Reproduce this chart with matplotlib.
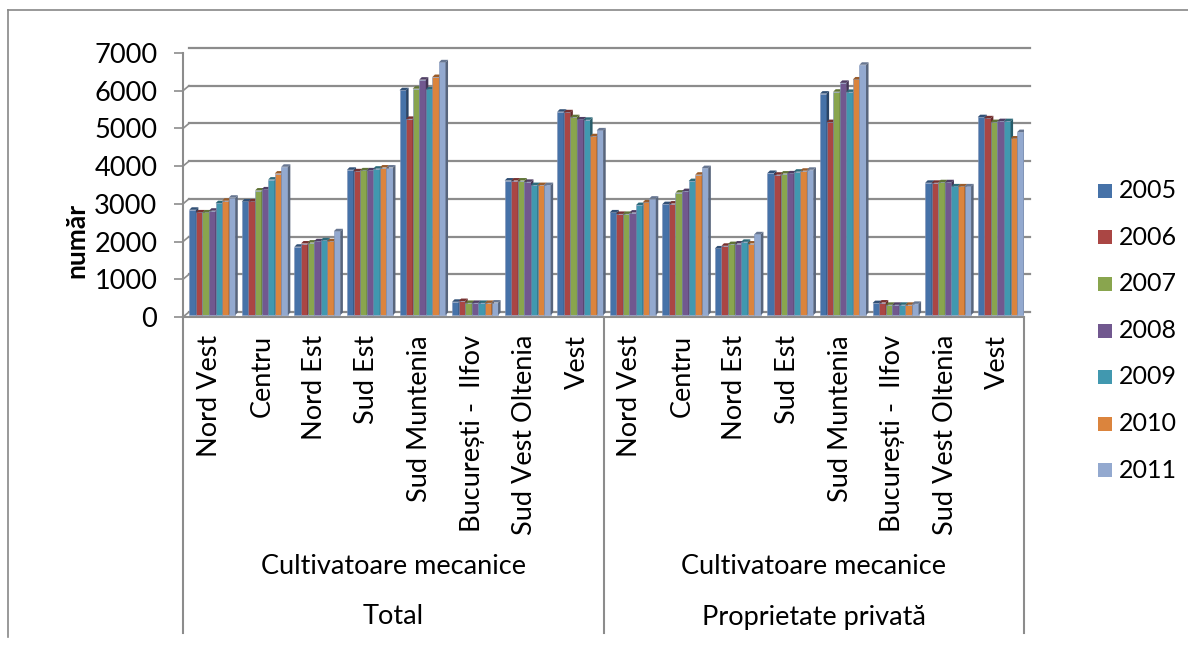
import matplotlib
matplotlib.use('Agg')
import matplotlib.pyplot as plt
import matplotlib.patches as patches
import matplotlib.transforms as mtransforms
from matplotlib.lines import Line2D
import numpy as np

plt.rcParams['font.family'] = ['Lato', 'DejaVu Sans']
plt.rcParams['font.size'] = 19.5

years = ['2005', '2006', '2007', '2008', '2009', '2010', '2011']
regions = ['Nord Vest', 'Centru', 'Nord Est', 'Sud Est', 'Sud Muntenia',
           'București -  Ilfov', 'Sud Vest Oltenia', 'Vest']
groups = ['Total', 'Proprietate privată']
indicator = 'Cultivatoare mecanice'
colors = ['#4672a8', '#aa4644', '#89a54e', '#71588f', '#4198af', '#db843d', '#93a9cf']

# one row per year, one value per region
total_vals = [
    [2790, 3010, 1810, 3850, 5960, 350, 3565, 5390],
    [2720, 3010, 1895, 3810, 5200, 370, 3565, 5375],
    [2720, 3300, 1920, 3835, 6000, 320, 3565, 5245],
    [2765, 3330, 1955, 3835, 6240, 320, 3530, 5185],
    [2965, 3590, 1980, 3880, 5980, 320, 3445, 5175],
    [3030, 3750, 1955, 3910, 6310, 320, 3445, 4740],
    [3110, 3930, 2220, 3910, 6700, 330, 3445, 4895],
]
privat_vals = [
    [2720, 2940, 1765, 3765, 5870, 315, 3505, 5245],
    [2680, 2955, 1835, 3720, 5115, 330, 3505, 5215],
    [2680, 3245, 1880, 3750, 5920, 270, 3520, 5115],
    [2715, 3285, 1895, 3755, 6155, 270, 3520, 5140],
    [2915, 3550, 1940, 3800, 5915, 270, 3410, 5140],
    [2985, 3720, 1895, 3825, 6245, 270, 3410, 4680],
    [3085, 3895, 2140, 3850, 6635, 295, 3410, 4850],
]

W, H = 1188, 645
fig = plt.figure(figsize=(W / 100, H / 100), dpi=100)
ax_l, ax_r, ax_t, ax_b = 183, 1024, 53, 317
ax = fig.add_axes([ax_l / W, 1 - ax_b / H, (ax_r - ax_l) / W, (ax_b - ax_t) / H])
n_cat = len(regions) * len(groups)
ax.set_xlim(0, n_cat)
ax.set_ylim(0, 7000)
ax.patch.set_visible(False)

grid_c = '#8c8c8c'
for s in ['top', 'right']:
    ax.spines[s].set_visible(False)
ax.spines['left'].set_color(grid_c)
ax.spines['left'].set_linewidth(1.5)
ax.spines['bottom'].set_color(grid_c)
ax.spines['bottom'].set_linewidth(1.5)
ax.set_yticks(np.arange(0, 7001, 1000))
ax.tick_params(axis='y', length=6.5, width=1.2, color=grid_c, pad=12, labelsize=19.5)
ax.set_xticks([])

# back wall gridlines (pseudo 3D)
back = mtransforms.ScaledTranslation(0.06, 0.05, fig.dpi_scale_trans)
for v in ax.get_yticks():
    ax.plot([0, 1], [v, v], transform=ax.get_yaxis_transform() + back,
            color=grid_c, lw=1.6, clip_on=False, zorder=1)
    p0 = ax.transData.transform((0, v))
    ax.add_line(Line2D([p0[0], p0[0] + 6], [p0[1], p0[1] + 5],
                       transform=mtransforms.IdentityTransform(),
                       color=grid_c, lw=1.2, zorder=1))


def shade(c, f):
    rgb = np.array(matplotlib.colors.to_rgb(c))
    if f < 1:
        return tuple(rgb * f)
    return tuple(rgb + (1 - rgb) * (f - 1))


# bars with small top/side faces
bar_off = mtransforms.ScaledTranslation(0.03, 0.02, fig.dpi_scale_trans)
bw = 0.125
ux = n_cat / (ax_r - ax_l)
uy = 7000 / (ax_b - ax_t)
dx, dy = 2.5 * ux, 2.5 * uy
for g, data in enumerate([total_vals, privat_vals]):
    base = g * len(regions) + np.arange(len(regions)) + 0.5
    for j, vals in enumerate(data):
        x = base + (j - 3) * bw
        z = 3 + j * 0.1
        bars = ax.bar(x, vals, width=bw, color=colors[j], edgecolor='#8093b8',
                      linewidth=0.4, zorder=z)
        for b in bars:
            b.set_transform(ax.transData + bar_off)
            x0 = b.get_x()
            x1 = x0 + b.get_width()
            h = b.get_height()
            side = patches.Polygon([(x1, 0), (x1, h), (x1 + dx, h + dy), (x1 + dx, dy)],
                                   closed=True, facecolor=shade(colors[j], 0.6),
                                   edgecolor='none', zorder=z + 0.05)
            top = patches.Polygon([(x0, h), (x1, h), (x1 + dx, h + dy), (x0 + dx, h + dy)],
                                  closed=True, facecolor=shade(colors[j], 0.7),
                                  edgecolor='none', zorder=z + 0.05)
            for p in (side, top):
                p.set_transform(ax.transData + bar_off)
                ax.add_patch(p)

# category table below the axis
trans = mtransforms.blended_transform_factory(ax.transData, fig.transFigure)
for xv in [0, len(regions), n_cat]:
    ax.plot([xv, xv], [1 - ax_b / H, 1 - 633 / H], transform=trans,
            color=grid_c, lw=1.5, clip_on=False)
for g, gname in enumerate(groups):
    for i, r in enumerate(regions):
        ax.text(g * len(regions) + i + 0.5, 1 - 335 / H, r, rotation=90,
                ha='center', va='top', transform=trans, fontsize=19.5)
    mid = g * len(regions) + len(regions) / 2
    ax.text(mid, 1 - 567 / H, indicator, ha='center', va='center',
            transform=trans, fontsize=19.5)
    ax.text(mid, 1 - 617 / H, gname, ha='center', va='center',
            transform=trans, fontsize=19.5)

fig.text(76 / W, 1 - 240 / H, 'număr', rotation=90, fontweight='bold',
         ha='center', va='center', fontsize=19)

# legend
for k, (yr, c) in enumerate(zip(years, colors)):
    yc = 191 + k * 46.5
    fig.add_artist(patches.Rectangle((1098 / W, 1 - (yc + 7) / H), 14 / W, 14 / H,
                                     transform=fig.transFigure, facecolor=c,
                                     edgecolor='none'))
    fig.text(1119 / W, 1 - yc / H, yr, ha='left', va='center', fontsize=18)

# outer chart border (top and left visible)
fig.add_artist(Line2D([8 / W, 8 / W], [1 - 10 / H, 1 - 637 / H],
                      transform=fig.transFigure, color='#888888', lw=1.2))
fig.add_artist(Line2D([8 / W, 1], [1 - 10 / H, 1 - 10 / H],
                      transform=fig.transFigure, color='#888888', lw=1.2))

fig.savefig('out.png', dpi=100)
